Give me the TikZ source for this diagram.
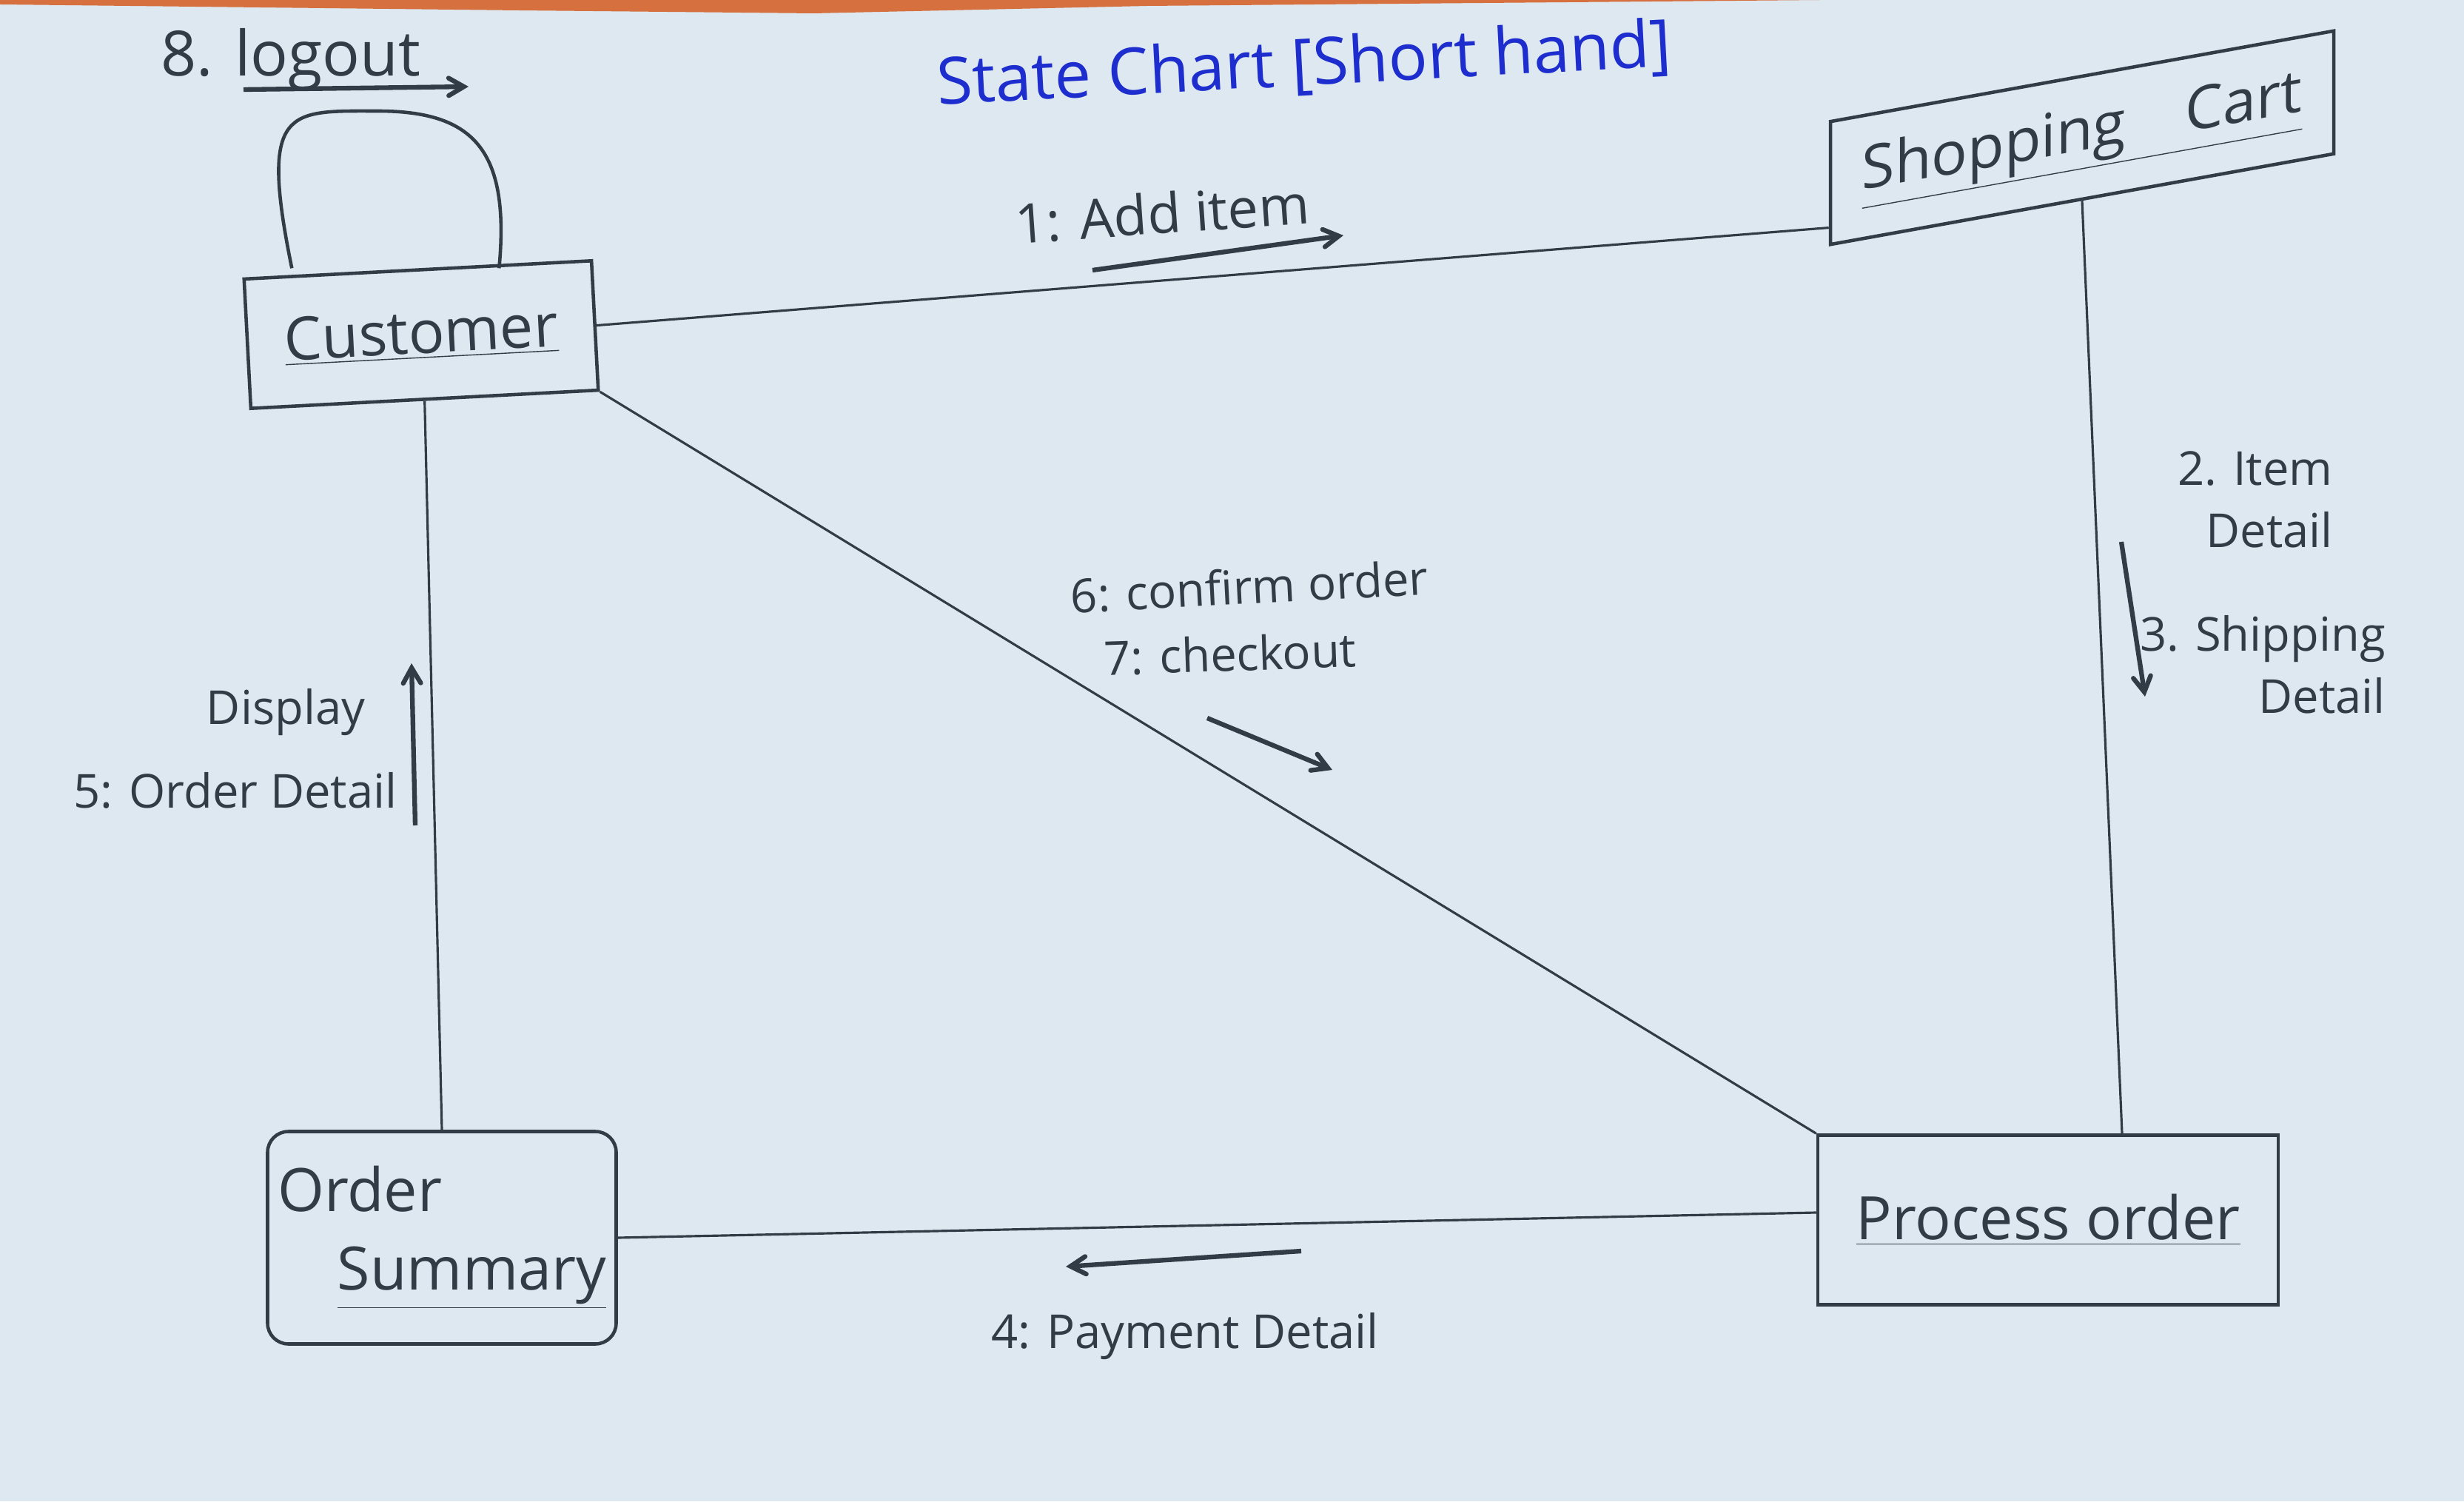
\documentclass[tikz,border=0pt]{standalone}
\usepackage{fontspec}
\setmainfont{Open Sans}
\usetikzlibrary{calc,arrows}
\definecolor{pencil}{RGB}{50,60,70}
\definecolor{paper}{RGB}{221,232,240}
\definecolor{ink}{RGB}{30,45,205}
\definecolor{desk}{RGB}{214,112,62}

\begin{document}
\begin{tikzpicture}[
    state/.style={draw=pencil,line width=1.3pt,text=pencil,font=\fontsize{23}{30}\selectfont,inner sep=0pt},
    lbl/.style={text=pencil,font=\fontsize{18}{24}\selectfont,inner sep=1pt},
    msg/.style={draw=pencil,line width=1.8pt,-angle 60},
    link/.style={draw=pencil,line width=0.9pt}]
              \fill[paper] (0,0) rectangle (33.29,20.28);
              \fill[desk] (0,20.28) -- (0,20.22) -- (7,20.14) -- (11,20.1) -- (15.5,20.2) -- (24.6,20.28) -- cycle;
              \useasboundingbox (0,0) rectangle (33.29,20.28);
              \node[font=\fontsize{25}{30}\selectfont,text=ink,rotate=3] (title) at (17.62,19.39) {State Chart [Short hand]};
              \node[state,minimum width=4.7cm,minimum height=1.75cm,rotate=3] (cust) at (5.69,15.76) {\underline{Customer}};
              \node[state,minimum width=6.8cm,minimum height=1.66cm,yslant=0.18] (cart) at (28.13,18.42) {\underline{Shopping\quad Cart}};
              \node[state,minimum width=6.22cm,minimum height=2.29cm] (proc) at (27.67,3.80) {\underline{Process order}};
              \node[state,minimum width=4.71cm,minimum height=2.87cm,rounded corners=8pt,align=left] (ordsum) at (5.97,3.56) {Order\\ \quad\underline{Summary}};
              \draw[link] (cust.east) -- ([yshift=-6mm]cart.west);
              \draw[link] (cart.south) -- ([xshift=1cm]proc.north);
              \draw[link] (cust.south east) -- (proc.north west);
              \draw[link] (cust.south) -- (ordsum.north);
              \draw[link] (ordsum.east) -- ([yshift=1mm]proc.west);
              \coordinate (looptop) at (5.1,18.78);
              \draw[state] ([xshift=-17mm]cust.north) .. controls +(-0.45,2.2) and +(-1.2,0) .. (looptop) .. controls +(1.3,0) and +(0.15,1.6) .. ([xshift=11mm]cust.north);
              \node[lbl,font=\fontsize{24}{28}\selectfont] (logout) at (3.93,19.47) {8. logout};
              \coordinate (lga) at (3.29,19.07);
              \coordinate (lgb) at (6.33,19.11);
              \draw[msg] (lga) -- (lgb);
              \node[lbl,font=\fontsize{21}{26}\selectfont,rotate=4] (add) at (15.70,17.40) {1: Add item};
              \coordinate (ada) at (14.76,16.63);
              \coordinate (adb) at (18.15,17.10);
              \draw[msg] (ada) -- (adb);
              \node[lbl,align=right] (itm) at (30.47,13.53) {2. Item\\Detail};
              \node[lbl,align=right] (shp) at (30.57,11.30) {3. Shipping\\Detail};
              \coordinate (sha) at (28.66,12.96);
              \coordinate (shb) at (28.98,10.87);
              \draw[msg] (sha) -- (shb);
              \node[lbl,rotate=3] (cnf) at (16.88,12.36) {6: confirm order};
              \node[lbl,rotate=2] (chk) at (16.62,11.45) {7: checkout};
              \coordinate (cka) at (16.31,10.58);
              \coordinate (ckb) at (18.00,9.88);
              \draw[msg] (cka) -- (ckb);
              \node[lbl] (dsp) at (3.86,10.66) {Display};
              \node[lbl] (odt) at (3.18,9.60) {5: Order Detail};
              \coordinate (oda) at (5.61,9.13);
              \coordinate (odb) at (5.56,11.32);
              \draw[msg] (oda) -- (odb);
              \node[lbl] (pay) at (16.01,2.23) {4: Payment Detail};
              \coordinate (pya) at (17.58,3.38);
              \coordinate (pyb) at (14.40,3.17);
              \draw[msg] (pya) -- (pyb);
            \end{tikzpicture}
\end{document}
